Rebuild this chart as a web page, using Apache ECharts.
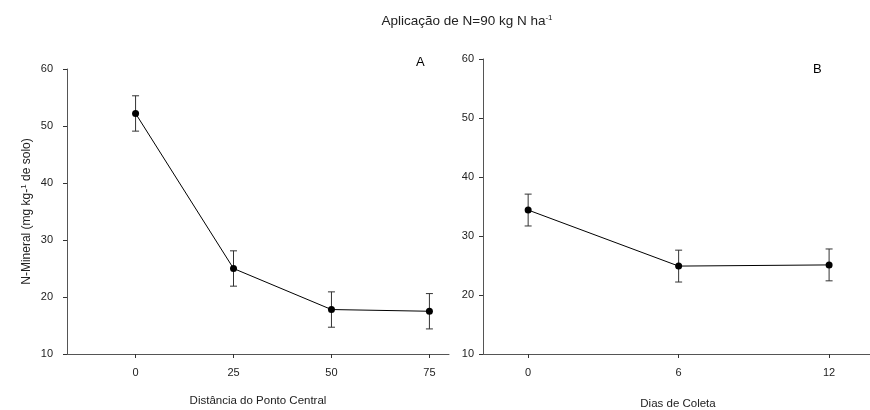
<!DOCTYPE html>
<html>
<head>
<meta charset="utf-8">
<script src="https://cdn.jsdelivr.net/npm/echarts@6/dist/echarts.min.js"></script>
<style>
  html, body { margin: 0; padding: 0; background: #fff; }
  #chart { width: 870px; height: 410px; }
</style>
</head>
<body>
<div id="chart"></div>
<script>
// panel A: distance from the central point
const distCategories = [0, 25, 50, 75];
const distValues = [52.2, 25.0, 17.8, 17.5];
const distErrors = [3.1, 3.1, 3.1, 3.1];

// panel B: sampling days
const dayCategories = [0, 6, 12];
const dayValues = [34.4, 24.9, 25.1];
const dayErrors = [2.7, 2.7, 2.7];

const yTicks = [10, 20, 30, 40, 50, 60];

const font = 'Liberation Sans, Arial, sans-serif';
const axisColor = '#555';
const textColor = '#222';

const chart = echarts.init(document.getElementById('chart'));

function errorBars(xs, ys, errs, gridIdx) {
  return {
    type: 'custom',
    xAxisIndex: gridIdx,
    yAxisIndex: gridIdx,
    z: 1,
    data: xs.map((x, i) => [x, ys[i] - errs[i], ys[i] + errs[i]]),
    renderItem: (params, api) => {
      const lo = api.coord([api.value(0), api.value(1)]);
      const hi = api.coord([api.value(0), api.value(2)]);
      const w = 3.5;
      const style = { stroke: '#333', lineWidth: 1 };
      return {
        type: 'group',
        children: [
          { type: 'line', shape: { x1: lo[0], y1: lo[1], x2: hi[0], y2: hi[1] }, style },
          { type: 'line', shape: { x1: lo[0] - w, y1: lo[1], x2: lo[0] + w, y2: lo[1] }, style },
          { type: 'line', shape: { x1: hi[0] - w, y1: hi[1], x2: hi[0] + w, y2: hi[1] }, style }
        ]
      };
    }
  };
}

function lineSeries(xs, ys, gridIdx) {
  return {
    type: 'line',
    xAxisIndex: gridIdx,
    yAxisIndex: gridIdx,
    z: 2,
    data: xs.map((x, i) => [x, ys[i]]),
    symbol: 'circle',
    symbolSize: 7,
    lineStyle: { color: '#000', width: 1 },
    itemStyle: { color: '#000' },
    animation: false
  };
}

const baseX = {
  type: 'value',
  splitLine: { show: false },
  axisLine: { onZero: false, lineStyle: { color: axisColor, width: 1 } },
  axisTick: { length: 4, lineStyle: { color: '#333' } },
  axisLabel: { color: textColor, fontSize: 11, fontFamily: font, margin: 13 },
  nameLocation: 'middle',
  nameTextStyle: { color: textColor, fontSize: 11.5, fontFamily: font }
};

const baseY = {
  type: 'value',
  min: 10,
  max: 60,
  interval: 10,
  splitLine: { show: false },
  axisLine: { show: true, onZero: false, lineStyle: { color: axisColor, width: 1 } },
  axisTick: { show: true, length: 4, lineStyle: { color: '#333' } },
  axisLabel: { color: textColor, fontSize: 11, fontFamily: font, margin: 14,
    customValues: yTicks },
  nameLocation: 'middle',
  nameTextStyle: { color: textColor, fontSize: 12, fontFamily: font }
};

chart.setOption({
  animation: false,
  title: [
    {
      text: 'Aplicação de N=90 kg N ha{sup|-1}',
      left: 462, top: 9, textAlign: 'center',
      textStyle: {
        fontSize: 13.5, fontWeight: 'normal', color: textColor, fontFamily: font,
        rich: { sup: { fontSize: 8, verticalAlign: 'top', padding: [0, 0, 7, 0], color: textColor, fontFamily: font } }
      }
    },
    { text: 'A', left: 411, top: 51, textStyle: { fontSize: 13, fontWeight: 'normal', color: '#000', fontFamily: font } },
    { text: 'B', left: 808, top: 58, textStyle: { fontSize: 13, fontWeight: 'normal', color: '#000', fontFamily: font } }
  ],
  grid: [
    { left: 67, top: 69, width: 382, height: 285, outerBoundsMode: 'none', containLabel: false },
    { left: 483, top: 59, width: 390, height: 295, outerBoundsMode: 'none', containLabel: false }
  ],
  xAxis: [
    Object.assign({}, baseX, {
      gridIndex: 0, min: -17.5, max: 80,
      name: 'Distância do Ponto Central', nameGap: 41,
      axisTick: Object.assign({}, baseX.axisTick, { customValues: distCategories }),
      axisLabel: Object.assign({}, baseX.axisLabel, { customValues: distCategories })
    }),
    Object.assign({}, baseX, {
      gridIndex: 1, min: -1.8, max: 13.75,
      name: 'Dias de Coleta', nameGap: 44,
      axisTick: Object.assign({}, baseX.axisTick, { customValues: dayCategories }),
      axisLabel: Object.assign({}, baseX.axisLabel, { customValues: dayCategories })
    })
  ],
  yAxis: [
    Object.assign({}, baseY, {
      gridIndex: 0,
      name: 'N-Mineral (mg kg-{sup|1} de solo)', nameGap: 33,
      nameTextStyle: Object.assign({}, baseY.nameTextStyle, {
        rich: { sup: { fontSize: 8, padding: [0, 0, 6, 0], color: textColor, fontFamily: font } }
      })
    }),
    Object.assign({}, baseY, {
      gridIndex: 1,
      axisLabel: Object.assign({}, baseY.axisLabel, { margin: 9 })
    })
  ],
  series: [
    errorBars(distCategories, distValues, distErrors, 0),
    lineSeries(distCategories, distValues, 0),
    errorBars(dayCategories, dayValues, dayErrors, 1),
    lineSeries(dayCategories, dayValues, 1)
  ]
});
</script>
</body>
</html>
